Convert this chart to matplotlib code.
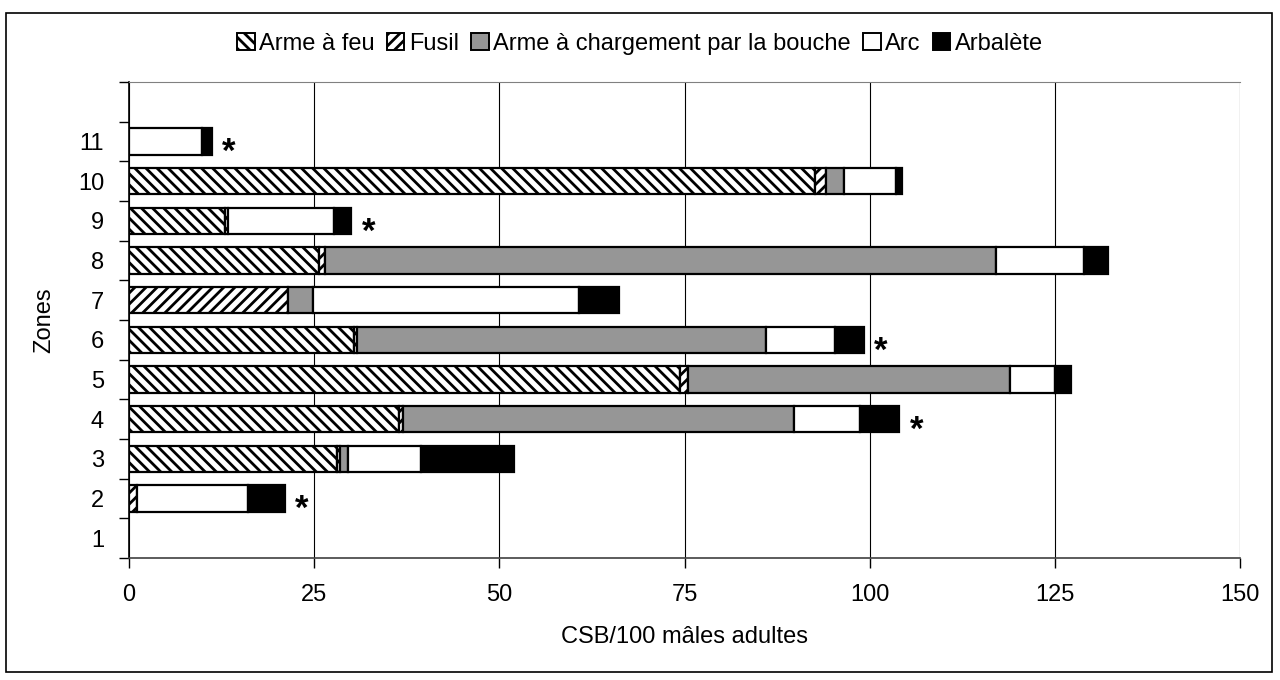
import numpy as np
import matplotlib
matplotlib.use("Agg")
import matplotlib.pyplot as plt
from matplotlib.patches import Rectangle, Patch

plt.rcParams['font.family'] = ['Liberation Sans', 'DejaVu Sans']
plt.rcParams['hatch.linewidth'] = 2.0

# data: zones 1..11 (slot 12 is left empty, like the original)
zones = ['1', '2', '3', '4', '5', '6', '7', '8', '9', '10', '11', '']
feu = [0, 0, 28.1, 36.5, 74.4, 30.4, 0, 25.7, 12.9, 92.6, 0, 0]
fusil = [0, 1.1, 0.4, 0.5, 1.1, 0.4, 21.5, 0.8, 0.4, 1.5, 0, 0]
bouche = [0, 0, 1.1, 52.8, 43.5, 55.2, 3.4, 90.6, 0, 2.4, 0, 0]
arc = [0, 14.9, 9.8, 8.9, 6.0, 9.3, 35.8, 11.8, 14.4, 7.0, 9.8, 0]
arbalete = [0, 5.0, 12.6, 5.3, 2.2, 3.9, 5.4, 3.3, 2.3, 0.9, 1.4, 0]
stars = ['', '*', '', '*', '', '*', '', '', '*', '', '*', '']

series = [
    ('Arme à feu', feu, 'white', '\\\\\\'),
    ('Fusil', fusil, 'white', '///'),
    ('Arme à chargement par la bouche', bouche, '#969696', None),
    ('Arc', arc, 'white', None),
    ('Arbalète', arbalete, 'black', None),
]

fig = plt.figure(figsize=(12.8, 6.8), dpi=100)
fig.patches.append(Rectangle((6 / 1280, 8 / 680), 1266 / 1280, 659 / 680,
                             transform=fig.transFigure, fill=False,
                             edgecolor='black', linewidth=1.2))
ax = fig.add_axes([129 / 1280, 122 / 680, 1111 / 1280, 476 / 680])

y = np.arange(1, len(zones) + 1)
left = np.zeros(len(zones))
for name, vals, color, hatch in series:
    vals = np.array(vals, dtype=float)
    mask = vals > 0
    ax.barh(y[mask], vals[mask], left=left[mask], height=0.66, color=color,
            edgecolor='black', linewidth=1.6, hatch=hatch, zorder=3)
    left += vals

# stars next to some bars
for yi, tot, s in zip(y, left, stars):
    if s:
        ax.text(tot + 1.4, yi - 0.28, s, fontsize=25, fontweight='bold',
                va='center', ha='left')

ax.set_xlim(0, 150)
ax.set_ylim(0.5, len(zones) + 0.5)
ax.set_xticks(np.arange(0, 151, 25))
ax.xaxis.grid(True, color='black', linewidth=0.8, zorder=0)
ax.set_yticks(y)
ax.set_yticklabels(zones, fontsize=17)
ax.set_yticks(np.arange(0.5, len(zones) + 1, 1), minor=True)
ax.tick_params(axis='y', which='major', length=0, pad=18)
ax.tick_params(axis='y', which='minor', length=7, width=1, direction='out')
ax.tick_params(axis='x', length=7, width=1, labelsize=17, pad=12)

ax.spines['top'].set_color('#808080')
ax.spines['right'].set_visible(False)
for sp in ('left', 'bottom'):
    ax.spines[sp].set_linewidth(1.2)
ax.spines['bottom'].set_color('#404040')

ax.set_xlabel('CSB/100 mâles adultes', fontsize=17, labelpad=14)
ax.set_ylabel('Zones', fontsize=17, labelpad=16)

handles = [Patch(facecolor=c, edgecolor='black', hatch=h, linewidth=1.4)
           for _, _, c, h in series]
fig.legend(handles, [s[0] for s in series], loc='center',
           bbox_to_anchor=(0.5, 1 - 44 / 680), ncol=5, frameon=False,
           fontsize=17, handlelength=0.75, handleheight=0.75,
           handletextpad=0.2, columnspacing=0.5)

fig.savefig('out.png', dpi=100)
